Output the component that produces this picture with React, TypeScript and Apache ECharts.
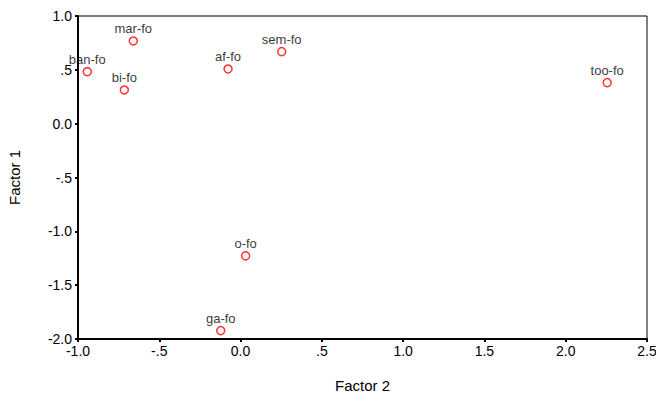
import React, { useEffect, useRef } from "react";
import * as echarts from "echarts";

const names = ["mar-fo", "ban-fo", "bi-fo", "af-fo", "sem-fo", "too-fo", "o-fo", "ga-fo"];
const factor2 = [-0.66, -0.943, -0.715, -0.077, 0.253, 2.255, 0.031, -0.122];
const factor1 = [0.768, 0.483, 0.313, 0.508, 0.669, 0.381, -1.228, -1.922];

const fmt = (v: number) => {
  const r = Math.round(v * 10) / 10;
  if (r === 0) return "0.0";
  if (Math.abs(r) < 1) return (r < 0 ? "-" : "") + Math.abs(r).toFixed(1).replace(/^0/, "");
  return r.toFixed(1);
};

const FONT = "'Liberation Sans', Arial, sans-serif";

export default function App() {
  const ref = useRef<HTMLDivElement>(null);
  useEffect(() => {
    if (!ref.current) return;
    const chart = echarts.init(ref.current, null, { renderer: "svg" });
    chart.setOption({
      animation: false,
      backgroundColor: "#ffffff",
      grid: {
        left: 78,
        top: 16,
        right: 9,
        bottom: 55,
        containLabel: false,
        outerBoundsMode: "none",
        show: true,
        borderColor: "#000",
        borderWidth: 1,
        backgroundColor: "transparent",
      },
      xAxis: {
        type: "value",
        min: -1,
        max: 2.5,
        interval: 0.5,
        name: "Factor 2",
        nameLocation: "middle",
        nameGap: 39,
        nameTextStyle: { fontFamily: FONT, fontSize: 15, color: "#000" },
        splitLine: { show: false },
        axisLine: { show: true, onZero: false, lineStyle: { color: "#000", width: 2 } },
        axisTick: { show: true, length: 3, lineStyle: { color: "#000", width: 2 } },
        axisLabel: {
          formatter: fmt,
          fontFamily: FONT,
          fontSize: 14,
          color: "#000",
          margin: 5,
        },
      },
      yAxis: {
        type: "value",
        min: -2,
        max: 1,
        interval: 0.5,
        name: "Factor 1",
        nameLocation: "middle",
        nameGap: 56,
        nameTextStyle: { fontFamily: FONT, fontSize: 15, color: "#000" },
        splitLine: { show: false },
        axisLine: { show: true, onZero: false, lineStyle: { color: "#000", width: 2 } },
        axisTick: { show: true, length: 3, lineStyle: { color: "#000", width: 2 } },
        axisLabel: {
          formatter: fmt,
          fontFamily: FONT,
          fontSize: 14,
          color: "#000",
          margin: 6,
        },
      },
      series: [
        {
          type: "scatter",
          symbol: "circle",
          symbolSize: 8,
          itemStyle: { color: "#fff", borderColor: "#ff0000", borderWidth: 1.5 },
          label: {
            show: true,
            position: "top",
            distance: 1,
            formatter: (p: any) => p.data[2],
            fontFamily: FONT,
            fontSize: 13,
            color: "#000",
          },
          data: names.map((n, i) => [factor2[i], factor1[i], n]),
        },
      ],
    });
    return () => chart.dispose();
  }, []);
  return (
    <div
      ref={ref}
      style={{ position: "fixed", left: 0, top: 0, width: 656, height: 394, background: "#fff" }}
    />
  );
}
